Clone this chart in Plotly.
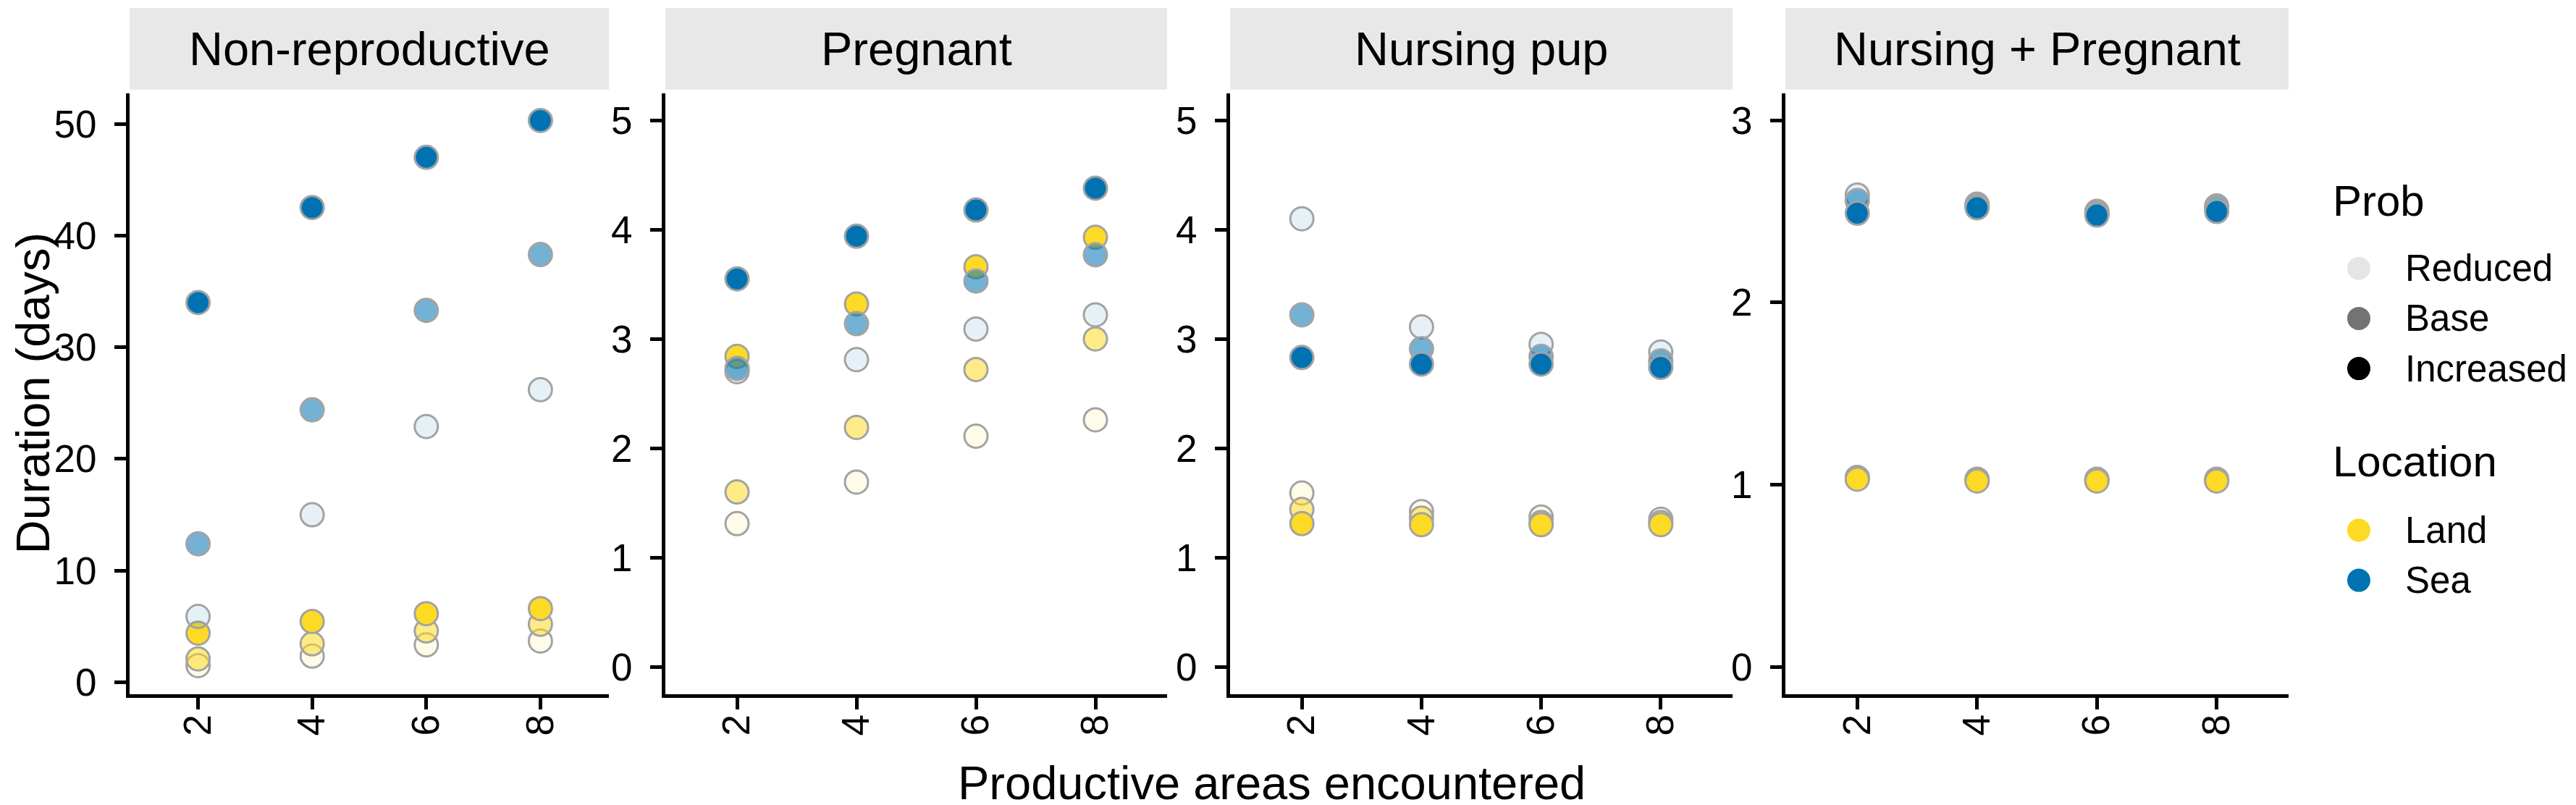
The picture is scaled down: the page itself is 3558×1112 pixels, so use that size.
import plotly.graph_objects as go

W, H = 3558, 1112
FONT = "Liberation Sans, Arial, Helvetica, sans-serif"

# ---- data -------------------------------------------------------------
areas = ["2", "4", "6", "8"]
statuses = ["Non-reproductive", "Pregnant", "Nursing pup", "Nursing + Pregnant"]
probs = ["Reduced", "Base", "Increased"]
locations = ["Land", "Sea"]

# rows follow probs: Reduced, Base, Increased ; columns follow areas
nonrep_land = [[1.5, 2.35, 3.35, 3.7], [2.1, 3.45, 4.6, 5.2], [4.4, 5.45, 6.15, 6.6]]
nonrep_sea = [[5.9, 15.0, 22.9, 26.2], [12.4, 24.4, 33.3, 38.3], [34.0, 42.5, 47.0, 50.3]]
preg_land = [[1.31, 1.69, 2.11, 2.26], [1.60, 2.19, 2.72, 3.00], [2.84, 3.32, 3.66, 3.93]]
preg_sea = [[2.70, 2.81, 3.09, 3.22], [2.73, 3.14, 3.53, 3.77], [3.55, 3.94, 4.18, 4.38]]
nurse_land = [[1.59, 1.42, 1.37, 1.35], [1.44, 1.36, 1.32, 1.32], [1.31, 1.30, 1.30, 1.30]]
nurse_sea = [[4.10, 3.11, 2.95, 2.88], [3.22, 2.91, 2.84, 2.80], [2.83, 2.77, 2.77, 2.74]]
both_land = [[1.04, 1.03, 1.03, 1.03], [1.035, 1.025, 1.025, 1.025], [1.03, 1.02, 1.02, 1.02]]
both_sea = [[2.59, 2.54, 2.50, 2.53], [2.56, 2.53, 2.49, 2.52], [2.49, 2.52, 2.48, 2.50]]

panel_data = [
    (nonrep_land, nonrep_sea),
    (preg_land, preg_sea),
    (nurse_land, nurse_sea),
    (both_land, both_sea),
]

# ---- styling ------------------------------------------------------------
loc_rgb = {"Land": (253, 218, 36), "Sea": (0, 114, 178)}
prob_alpha = {"Reduced": 0.1, "Base": 0.55, "Increased": 1.0}
edge_col = "#A3A3A3"

# panel geometry in pixels (left, right), shared top/bottom
panel_px = [(171, 833), (911, 1604), (1691, 2385), (2458, 3153)]
top_px, bot_px = 122, 962
strip_top, strip_bot = 3, 117
y_ranges = [[-1.05, 52.75], [-0.25, 5.25], [-0.25, 5.25], [-0.15, 3.15]]
y_dticks = [10, 1, 1, 1]


def fx(p):
    return p / W


def fy(p):
    return 1 - p / H


def rgba(rgb, a):
    return "rgba(%d,%d,%d,%.3f)" % (rgb[0], rgb[1], rgb[2], a)


fig = go.Figure()

for i, status in enumerate(statuses):
    ax = "" if i == 0 else str(i + 1)
    for loc, vals in zip(locations, panel_data[i]):
        for j, prob in enumerate(probs):
            fig.add_trace(go.Scatter(
                x=areas, y=vals[j], mode="markers",
                xaxis="x" + ax, yaxis="y" + ax,
                name=f"{loc} / {prob}", showlegend=False,
                marker=dict(size=32, color=rgba(loc_rgb[loc], prob_alpha[prob]),
                            line=dict(color=edge_col, width=3)),
            ))

    l, r = panel_px[i]
    axis_common = dict(showline=True, linecolor="black", linewidth=5,
                       ticks="outside", ticklen=16, tickwidth=5, tickcolor="black",
                       showgrid=False, zeroline=False,
                       tickfont=dict(size=53, color="black", family=FONT))
    fig.layout["xaxis" + ax] = dict(
        domain=[fx(l), fx(r)], anchor="y" + ax, type="category",
        categoryorder="array", categoryarray=areas, range=[-0.6, 3.6],
        tickangle=-90, ticklabelstandoff=-14, **axis_common)
    fig.layout["yaxis" + ax] = dict(
        domain=[fy(bot_px), fy(top_px)], anchor="x" + ax,
        range=y_ranges[i], tickmode="linear", tick0=0, dtick=y_dticks[i],
        ticklabelstandoff=14, **axis_common)

    # facet strip
    fig.add_shape(type="rect", xref="paper", yref="paper",
                  x0=fx(l), x1=fx(r), y0=fy(strip_bot), y1=fy(strip_top),
                  fillcolor="#E8E8E8", line=dict(width=0), layer="below")
    fig.add_annotation(x=fx((l + r) / 2), y=fy((strip_top + strip_bot) / 2),
                       xref="paper", yref="paper", text=status, showarrow=False,
                       xanchor="center", yanchor="middle",
                       font=dict(size=65, color="black", family=FONT))

# axis titles
fig.add_annotation(x=fx(0), y=fy((top_px + bot_px) / 2), xref="paper", yref="paper",
                   text="Duration (days)", textangle=-90, showarrow=False,
                   xanchor="left", yanchor="middle", borderpad=0,
                   font=dict(size=65, color="black", family=FONT))
fig.add_annotation(x=fx(1748), y=fy(1086), xref="paper", yref="paper",
                   text="Productive areas encountered", showarrow=False,
                   xanchor="center", yanchor="middle",
                   font=dict(size=65, color="black", family=FONT))

# ---- legend (drawn on its own pixel-scaled axis) ------------------------
LEG_L = 3190
KEY_X, LABEL_X, TITLE_X = 3250, 3312, 3212
ROW_STEP = 70
legend_groups = [
    ("Prob", 273, 367, probs, [rgba((0, 0, 0), prob_alpha[p]) for p in probs]),
    ("Location", 637, 733, locations, [rgba(loc_rgb[l], 1) for l in locations]),
]
for title, title_y, row0, labels, colors in legend_groups:
    rows = [row0 + ROW_STEP * k for k in range(len(labels))]
    fig.add_trace(go.Scatter(
        x=[KEY_X] * len(labels), y=rows, mode="markers", xaxis="x5", yaxis="y5",
        showlegend=False, hoverinfo="skip",
        marker=dict(size=32, color=colors, line=dict(width=0))))
    fig.add_annotation(x=TITLE_X, y=title_y, xref="x5", yref="y5", text=title,
                       showarrow=False, xanchor="left", yanchor="middle",
                       font=dict(size=60, color="black", family=FONT))
    for lab, ry in zip(labels, rows):
        fig.add_annotation(x=LABEL_X, y=ry, xref="x5", yref="y5", text=lab,
                           showarrow=False, xanchor="left", yanchor="middle",
                           font=dict(size=51, color="black", family=FONT))

fig.layout["xaxis5"] = dict(domain=[fx(LEG_L), 1], range=[LEG_L, W], anchor="y5",
                            visible=False, fixedrange=True)
fig.layout["yaxis5"] = dict(domain=[0, 1], range=[H, 0], anchor="x5",
                            visible=False, fixedrange=True)

fig.update_layout(
    width=W, height=H,
    margin=dict(l=0, r=0, t=0, b=0),
    paper_bgcolor="white", plot_bgcolor="white",
    showlegend=False,
    font=dict(family=FONT, color="black"),
)

fig.write_html("out.html")
